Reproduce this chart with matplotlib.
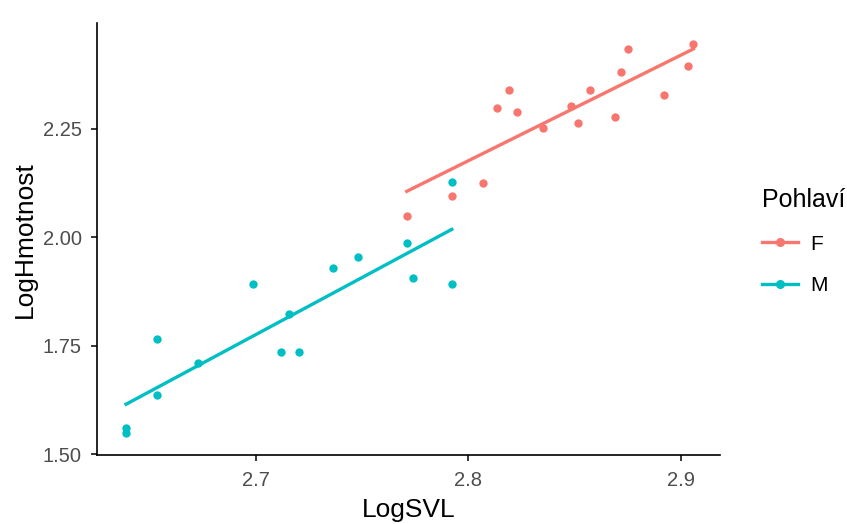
import numpy as np
import matplotlib
matplotlib.use("Agg")
import matplotlib.pyplot as plt
from matplotlib.lines import Line2D

plt.rcParams['font.family'] = ['Liberation Sans', 'DejaVu Sans']

# samice (F)
svl_f = [2.7710, 2.7922, 2.8068, 2.8134, 2.8193, 2.8228, 2.8353, 2.8482, 2.8515,
         2.8573, 2.8692, 2.8718, 2.8752, 2.8922, 2.9033, 2.9060]
hm_f = [2.050, 2.095, 2.124, 2.297, 2.339, 2.289, 2.253, 2.302, 2.264,
        2.339, 2.277, 2.380, 2.434, 2.329, 2.395, 2.446]

# samci (M)
svl_m = [2.6388, 2.6388, 2.6532, 2.6532, 2.6725, 2.6987, 2.7157, 2.7116, 2.7203,
         2.7364, 2.7482, 2.7710, 2.7741, 2.7922, 2.7922]
hm_m = [1.561, 1.548, 1.765, 1.637, 1.711, 1.893, 1.822, 1.736, 1.736,
        1.930, 1.955, 1.987, 1.905, 1.893, 2.128]

groups = ['F', 'M']
colors = {'F': '#F8766D', 'M': '#00BFC4'}
data = {'F': (svl_f, hm_f), 'M': (svl_m, hm_m)}

fig = plt.figure(figsize=(8.47, 5.24), dpi=100)
ax = fig.add_axes([0.1145, 0.131, 0.7355, 0.825])

for g in groups:
    x = np.array(data[g][0])
    y = np.array(data[g][1])
    ax.scatter(x, y, s=36, color=colors[g], linewidths=0, zorder=3)
    # lm fit jako geom_smooth(method = "lm")
    k, q = np.polyfit(x, y, 1)
    xs = np.array([x.min(), x.max()])
    ax.plot(xs, k * xs + q, color=colors[g], lw=2.4, zorder=2)

ax.set_xlim(2.6251, 2.9185)
ax.set_ylim(1.497, 2.494)
ax.set_xticks([2.7, 2.8, 2.9])
ax.set_xticklabels(['2.7', '2.8', '2.9'])
ax.set_yticks([1.50, 1.75, 2.00, 2.25])
ax.set_yticklabels(['1.50', '1.75', '2.00', '2.25'])

for s in ['top', 'right']:
    ax.spines[s].set_visible(False)
for s in ['left', 'bottom']:
    ax.spines[s].set_linewidth(1.2)
    ax.spines[s].set_color('black')
ax.tick_params(length=4.5, width=1.1, colors='black', labelcolor='#4D4D4D',
               labelsize=14.5, pad=6.5)

ax.set_xlabel('LogSVL', fontsize=19, color='black', labelpad=6)
ax.set_ylabel('LogHmotnost', fontsize=19, color='black', labelpad=4)

handles = [Line2D([0], [0], color=colors[g], lw=2.4, marker='o', markersize=6.5,
                  markeredgewidth=0) for g in groups]
leg = fig.legend(handles, groups, title='Pohlaví', loc='center left',
                 bbox_to_anchor=(0.9, 0.539), frameon=False, fontsize=15,
                 title_fontsize=18, handlelength=1.7, labelspacing=1.1,
                 handletextpad=0.6, borderpad=0, borderaxespad=0)
leg._legend_box.align = 'left'

fig.savefig('out.png', dpi=100)
